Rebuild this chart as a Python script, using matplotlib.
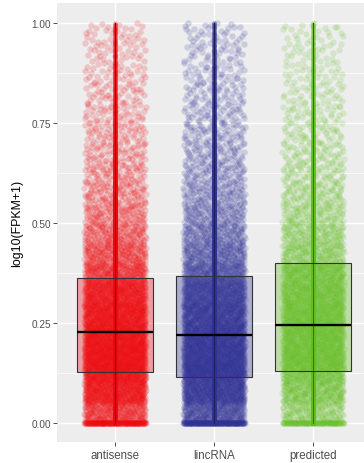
import numpy as np
import matplotlib
matplotlib.use("Agg")
import matplotlib.pyplot as plt

# categories and box statistics
categories = ['antisense', 'lincRNA', 'predicted']
colors = ['#EC0A0E', '#2F3195', '#62BE1E']
q1 = [0.127, 0.116, 0.130]
medians = [0.227, 0.220, 0.245]
q3 = [0.363, 0.367, 0.399]
whisker_lo = [0.0, 0.0, 0.0]
whisker_hi = [1.0, 1.0, 1.0]

# estimated point counts per 0.05 bin from 0 to 1 (plus exact zeros)
bin_edges = [i * 0.05 for i in range(21)]
zeros = [150, 160, 90]
counts_antisense = [260, 420, 470, 450, 420, 380, 330, 270, 210, 160,
                    125, 100, 82, 70, 60, 50, 43, 37, 33, 30]
counts_lincrna = [300, 450, 460, 430, 400, 360, 320, 270, 215, 170,
                  135, 110, 92, 78, 66, 56, 48, 42, 37, 33]
counts_predicted = [150, 230, 270, 280, 275, 260, 240, 210, 175, 140,
                    110, 88, 72, 60, 50, 42, 36, 31, 27, 24]
bin_counts = [counts_antisense, counts_lincrna, counts_predicted]


def halton(i, base):
    # deterministic spread inside a bin (layout only)
    f, r = 1.0, 0.0
    while i > 0:
        f /= base
        r += f * (i % base)
        i //= base
    return r


plt.rcParams['font.family'] = ['Liberation Sans', 'DejaVu Sans']
fig = plt.figure(figsize=(3.64, 4.64), dpi=100)
ax = fig.add_axes([57 / 364, 21 / 464, 307 / 364, 439 / 464])
ax.set_facecolor('#EDEDEE')

jit = 0.31
box_w = 0.76
pt_size = 21
pt_alpha = 0.18
for k, cat in enumerate(categories):
    xc = k + 1
    xs, ys = [], []
    n = 1
    for b, c in enumerate(bin_counts[k]):
        lo, hi = bin_edges[b], bin_edges[b + 1]
        for i in range(c):
            xs.append(xc + jit * (2 * halton(n, 2) - 1))
            ys.append(lo + (hi - lo) * halton(n, 3))
            n += 1
    for i in range(zeros[k]):
        xs.append(xc + jit * (2 * halton(n, 2) - 1))
        ys.append(0.0)
        n += 1
    xs = np.array(xs)
    ys = np.array(ys)

    # box fill under the points
    ax.add_patch(plt.Rectangle((xc - box_w / 2, q1[k]), box_w, q3[k] - q1[k],
                               facecolor=colors[k], alpha=0.35, edgecolor='none', zorder=2))
    ax.plot([xc, xc], [whisker_lo[k], whisker_hi[k]], color='black', lw=0.8, zorder=2.5)
    ax.scatter(xs, ys, s=pt_size, color=colors[k], alpha=pt_alpha, linewidths=0, zorder=3)
    # un-jittered copy in the middle
    ax.scatter(np.full(len(ys), xc), ys, s=11, color=colors[k], alpha=0.25,
               linewidths=0, zorder=3)
    ax.plot([xc, xc], [whisker_lo[k], whisker_hi[k]], color='black', lw=0.6, alpha=0.45, zorder=3.5)
    ax.add_patch(plt.Rectangle((xc - box_w / 2, q1[k]), box_w, q3[k] - q1[k],
                               facecolor='none', edgecolor='#333333', lw=0.8, zorder=4))
    ax.plot([xc - box_w / 2, xc + box_w / 2], [medians[k], medians[k]],
            color='black', lw=1.7, zorder=5, solid_capstyle='butt')

ax.set_xlim(0.414, 3.515)
ax.set_ylim(-0.047, 1.049)
ax.set_xticks([1, 2, 3])
ax.set_xticklabels(categories)
ax.set_yticks([0, 0.25, 0.5, 0.75, 1.0])
ax.set_yticklabels(['0.00', '0.25', '0.50', '0.75', '1.00'])
ax.set_yticks([0.125, 0.375, 0.625, 0.875], minor=True)
ax.grid(which='major', color='white', lw=1.0, zorder=0)
ax.grid(which='minor', axis='y', color='white', lw=0.5, zorder=0)
ax.set_axisbelow(True)
for s in ax.spines.values():
    s.set_visible(False)
ax.tick_params(axis='both', which='major', length=3, width=0.6, color='#333333',
               labelcolor='#4D4D4D')
ax.tick_params(axis='y', labelsize=7.2, pad=1.5)
ax.tick_params(axis='x', labelsize=8.3, pad=2)
ax.tick_params(which='minor', length=0)
ax.set_ylabel('log10(FPKM+1)', fontsize=8.9, color='black', labelpad=6)

fig.savefig('out.png', dpi=100)
